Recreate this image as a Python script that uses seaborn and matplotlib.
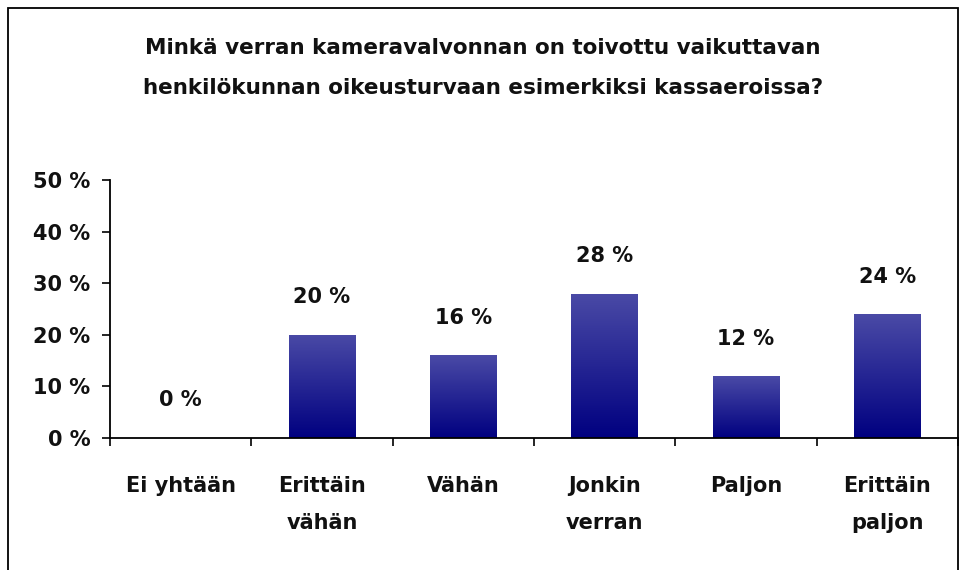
import numpy as np
import pandas as pd
import seaborn as sns
import matplotlib.pyplot as plt
from matplotlib.colors import LinearSegmentedColormap
from matplotlib.patches import Rectangle

# Chart data
categories = ['Ei yhtään', 'Erittäin\nvähän', 'Vähän', 'Jonkin\nverran', 'Paljon', 'Erittäin\npaljon']
shares = [0, 20, 16, 28, 12, 24]
title = ('Minkä verran kameravalvonnan on toivottu vaikuttavan\n'
         'henkilökunnan oikeusturvaan esimerkiksi kassaeroissa?')

df = pd.DataFrame({'category': categories, 'share': shares})

sns.set_theme(style='white')
plt.rcParams['font.family'] = ['DejaVu Sans']
plt.rcParams['font.weight'] = 'bold'

fig = plt.figure(figsize=(9.66, 5.7), dpi=100)
ax = fig.add_axes([110 / 966, 1 - 438 / 570, 848 / 966, 258 / 570])

sns.barplot(data=df, x='category', y='share', ax=ax, width=0.47,
            color='#2a2a95', edgecolor='none', saturation=1)

# vertical gradient on each bar (light blue top -> navy bottom)
cmap = LinearSegmentedColormap.from_list('bar', ['#000080', '#4a4aa6'])
grad = np.linspace(0, 1, 256).reshape(-1, 1)
for p in ax.patches:
    x0, y0 = p.get_x(), p.get_y()
    w, h = p.get_width(), p.get_height()
    if h <= 0:
        continue
    im = ax.imshow(grad, cmap=cmap, origin='lower', aspect='auto',
                   extent=[x0, x0 + w, y0, y0 + h], zorder=p.get_zorder() + 0.1)
    im.set_clip_path(p)
    p.set_facecolor('none')

fs = 15
for i, v in enumerate(shares):
    ax.annotate(f'{v} %', (i, v), xytext=(0, 27), textcoords='offset points',
                ha='center', va='center', fontsize=fs, fontweight='bold', color='#111111')

ax.set_xlim(-0.5, 5.5)
ax.set_ylim(0, 50)
ax.set_yticks(range(0, 51, 10))
ax.set_yticklabels([f'{t} %' for t in range(0, 51, 10)], fontsize=fs, fontweight='bold', color='#111111')
ax.set_xticks(range(6))
ax.set_xticklabels(categories, fontsize=fs, fontweight='bold', color='#111111', linespacing=2.1)
ax.set_xlabel('')
ax.set_ylabel('')

# tick marks between categories on the x axis
ax.set_xticks(np.arange(-0.5, 6, 1), minor=True)
ax.tick_params(axis='x', which='major', bottom=True, length=0, pad=27)
ax.tick_params(axis='x', which='minor', bottom=True, length=6, width=1.2, color='black', direction='out')
ax.tick_params(axis='y', left=True, length=6, width=1.2, color='black', direction='out', pad=8)

for side in ['top', 'right']:
    ax.spines[side].set_visible(False)
for side in ['left', 'bottom']:
    ax.spines[side].set_color('black')
    ax.spines[side].set_linewidth(1.3)
ax.grid(False)

fig.text(0.5, 1 - 68 / 570, title, ha='center', va='center', fontsize=fs + 0.5,
         fontweight='bold', color='#111111', linespacing=2.2)

# outer border of the chart area
fig.patches.append(Rectangle((8 / 966, -0.05), 950 / 966, 1 - 8 / 570 + 0.05,
                             transform=fig.transFigure, fill=False,
                             edgecolor='black', linewidth=1.3))

fig.savefig('out.png', dpi=100)
